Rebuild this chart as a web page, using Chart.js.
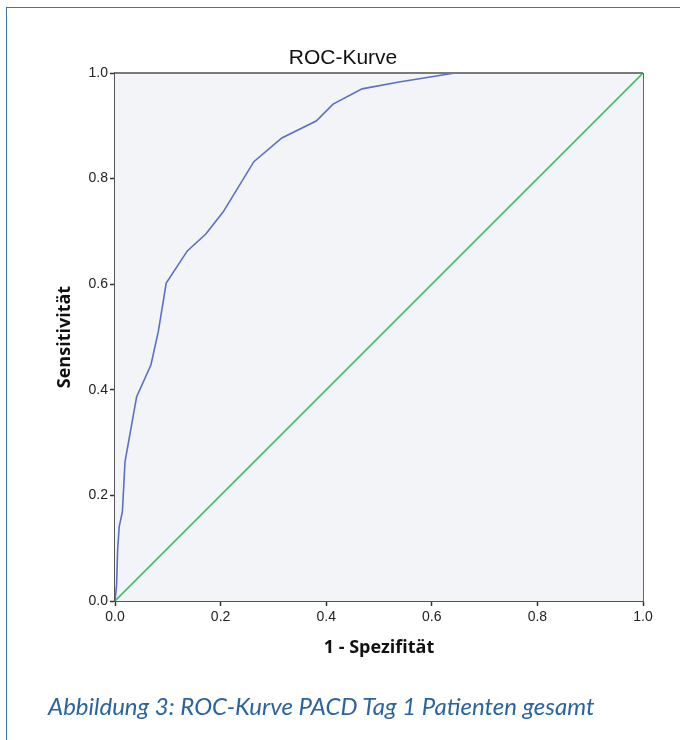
<!DOCTYPE html>
<html>
<head>
<meta charset="utf-8">
<script src="https://cdn.jsdelivr.net/npm/chart.js@4.4.1/dist/chart.umd.min.js"></script>
<style>
    body { margin: 0; background: #fff; }
    #wrap { position: relative; width: 680px; height: 740px; overflow: hidden; }
    #frame {
        position: absolute; left: 6px; top: 7px; right: -10px; bottom: -10px;
        border-top: 1.5px solid #3f73aa; border-left: 1.5px solid #3f73aa;
    }
    #rocChart { position: absolute; left: 0; top: 0; }
    #caption {
        position: absolute; left: 48px; top: 691px;
        font-family: Lato, sans-serif; font-style: italic; font-size: 24px;
        color: #2a64a0; white-space: nowrap;
    }
</style>
</head>
<body>
<div id="wrap">
    <div id="frame"></div>
    <canvas id="rocChart" width="680" height="740"></canvas>
    <div id="caption">Abbildung 3: ROC-Kurve PACD Tag 1 Patienten gesamt</div>
</div>
<script>
// ROC curve: 1 - specificity vs. sensitivity
const fpr = [0, 0.003, 0.005, 0.008, 0.014, 0.019, 0.041, 0.068, 0.082, 0.097,
             0.137, 0.172, 0.205, 0.263, 0.316, 0.381, 0.413, 0.468, 0.538, 0.644, 1.0];
const tpr = [0, 0.030, 0.097, 0.141, 0.169, 0.264, 0.387, 0.447, 0.510, 0.602,
             0.663, 0.695, 0.737, 0.832, 0.877, 0.909, 0.941, 0.970, 0.983, 1.0, 1.0];
const refX = [0, 1];
const refY = [0, 1];
const tickValues = [0, 0.2, 0.4, 0.6, 0.8, 1.0];

const toPoints = (xs, ys) => xs.map((x, i) => ({ x: x, y: ys[i] }));

const plotFrame = {
    id: 'plotFrame',
    beforeDatasetsDraw(chart) {
        const { ctx, chartArea: a } = chart;
        ctx.save();
        ctx.fillStyle = '#f3f4f7';
        ctx.fillRect(a.left, a.top, a.right - a.left, a.bottom - a.top);
        ctx.restore();
    },
    afterDraw(chart) {
        const { ctx, chartArea: a } = chart;
        ctx.save();
        ctx.strokeStyle = '#7a7a7a';
        ctx.lineWidth = 2;
        ctx.beginPath();
        ctx.moveTo(a.left, a.top);
        ctx.lineTo(a.right, a.top);
        ctx.stroke();
        ctx.lineWidth = 1;
        ctx.strokeStyle = '#666';
        ctx.beginPath();
        ctx.moveTo(a.right + 0.5, a.top);
        ctx.lineTo(a.right + 0.5, a.bottom);
        ctx.stroke();
        ctx.restore();
    }
};

const axisBase = {
    type: 'linear',
    min: 0,
    max: 1,
    afterBuildTicks: (scale) => { scale.ticks = tickValues.map(v => ({ value: v })); },
    grid: { display: true, drawOnChartArea: false, drawTicks: true, tickLength: 5, tickColor: '#333', tickWidth: 1.5 },
    border: { display: true, color: '#555', width: 2 },
    ticks: {
        color: '#222',
        font: { family: 'Liberation Sans', size: 14 },
        callback: (v) => Number(v).toFixed(1)
    }
};

new Chart(document.getElementById('rocChart'), {
    type: 'scatter',
    data: {
        datasets: [
            {
                data: toPoints(fpr, tpr),
                showLine: true,
                borderColor: '#5a70c2',
                borderWidth: 1.6,
                pointRadius: 0,
                tension: 0
            },
            {
                data: toPoints(refX, refY),
                showLine: true,
                borderColor: '#4cbb6b',
                borderWidth: 1.6,
                pointRadius: 0
            }
        ]
    },
    options: {
        responsive: false,
        devicePixelRatio: 1,
        animation: false,
        layout: { padding: { left: 43, top: 46, right: 37, bottom: 69 } },
        plugins: {
            legend: { display: false },
            tooltip: { enabled: false },
            title: {
                display: true,
                text: 'ROC-Kurve',
                color: '#111',
                font: { family: 'Liberation Sans', size: 21, weight: 'normal' },
                padding: { top: 0, bottom: 1.8 }
            }
        },
        scales: {
            x: {
                ...axisBase,
                afterFit: (scale) => { scale.height = 70; },
                ticks: { ...axisBase.ticks, padding: 3, maxRotation: 0 },
                title: {
                    display: true,
                    text: '1 - Spezifität',
                    color: '#111',
                    font: { family: 'Open Sans', size: 18, weight: 'bold' },
                    padding: { top: 0, bottom: 12 }
                }
            },
            y: {
                ...axisBase,
                afterFit: (scale) => { scale.width = 72; },
                ticks: { ...axisBase.ticks, padding: 2 },
                title: {
                    display: true,
                    text: 'Sensitivität',
                    color: '#111',
                    font: { family: 'Open Sans', size: 18, weight: 'bold' },
                    padding: { top: 11, bottom: 0 }
                }
            }
        }
    },
    plugins: [plotFrame]
});
</script>
</body>
</html>
